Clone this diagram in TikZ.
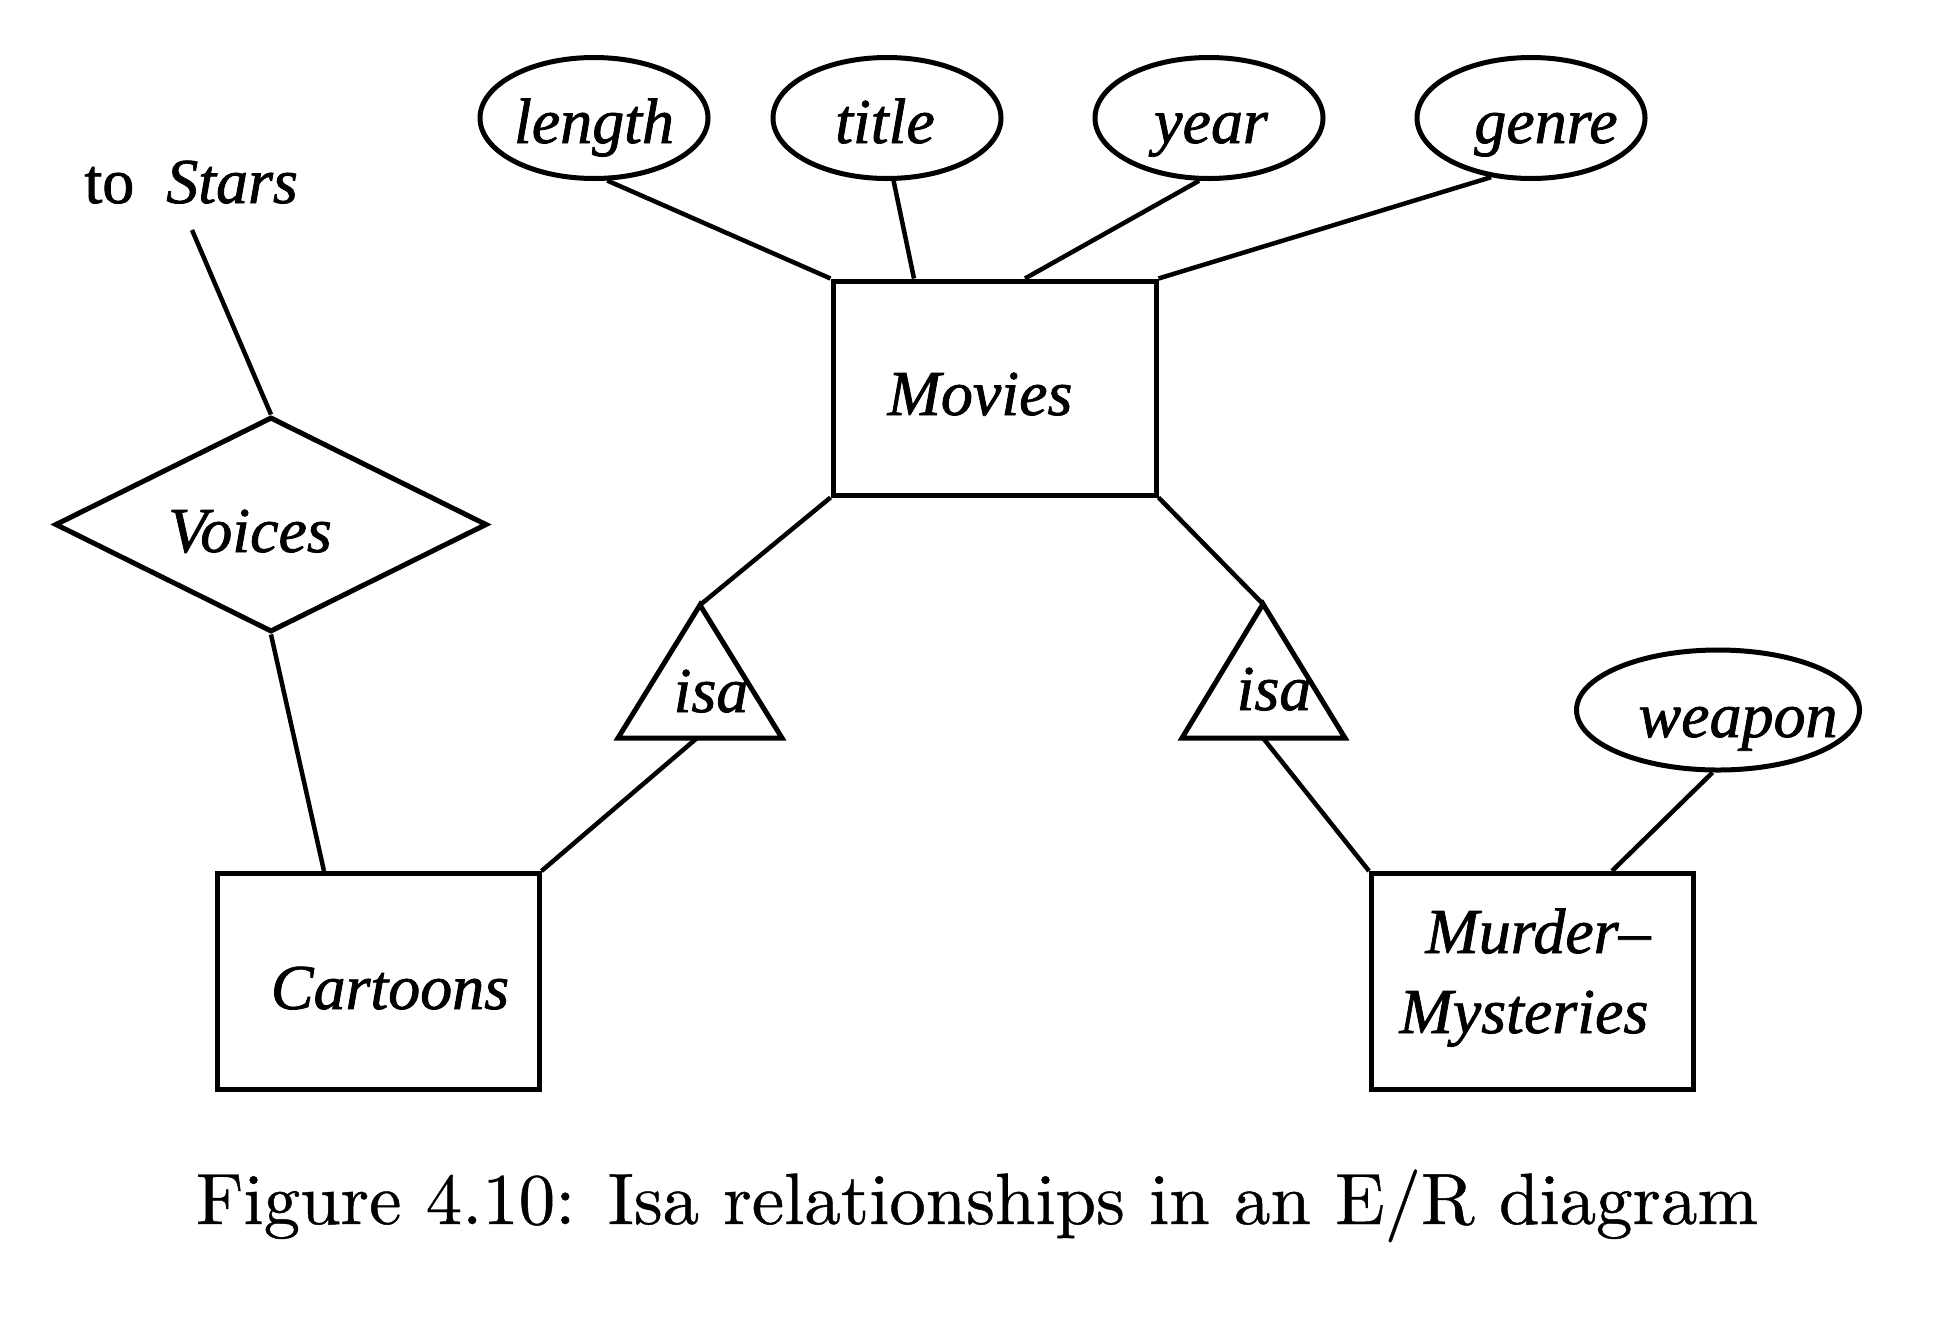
\documentclass[tikz,border=0pt]{standalone}
\usepackage{fontspec}
\newfontfamily\tms{Liberation Serif}[FakeBold=1.2]
\newfontfamily\capfont{lmroman10-regular.otf}[FakeBold=0.6]
\usetikzlibrary{shapes.geometric}
\begin{document}
\begin{tikzpicture}[x=1pt,y=-1pt,line width=5pt,
  attr/.style={draw,ellipse,inner sep=0pt,minimum width=228,minimum height=121},
  entity/.style={draw,rectangle,inner sep=0pt,minimum width=322,minimum height=216},
  rel/.style={draw,diamond,inner sep=0pt,minimum width=432,minimum height=215},
  lbl/.style={inner sep=0pt,anchor=base,font=\tms\itshape\fontsize{64}{70}\selectfont},
  link/.style={line width=4.5pt}]
\useasboundingbox[fill=white] (0,0) rectangle (1942,1326);

% attributes of Movies
\node[attr] (length) at (594,118) {};
\node[attr] (title)  at (887,118) {};
\node[attr] (year)   at (1209,118) {};
\node[attr] (genre)  at (1531,118) {};
\node[lbl] (tlength) at (594,143) {length};
\node[lbl] (ttitle)  at (885,143) {title};
\node[lbl] (tyear)   at (1211,143) {year};
\node[lbl] (tgenre)  at (1546,143) {genre};

% entities
\node[entity,minimum width=323,minimum height=214] (movies) at (994.5,388) {};
\node[lbl] (tmovies) at (980,415) {Movies};
\node[entity] (cartoons) at (378,981.5) {};
\node[lbl] (tcartoons) at (390,1009) {Cartoons};
\node[entity] (murder) at (1532.5,981.5) {};
\node[lbl,anchor=base west] (tmurder1) at (1423,953) {Murder–};
\node[lbl,anchor=base west] (tmurder2) at (1397,1033) {Mysteries};

% relationship
\node[rel] (voices) at (271,524.5) {};
\node[lbl] (tvoices) at (250,552) {Voices};
\node[inner sep=0pt,anchor=base west,font=\tms\fontsize{64}{70}\selectfont] (stars) at (82,203) {to\hspace{0.5em}\textit{Stars}};
\coordinate (starsend) at (192,230);

% weapon attribute
\node[attr,minimum width=283,minimum height=120] (weapon) at (1718,710) {};
\node[lbl] (tweapon) at (1738,737) {weapon};

% isa triangles
\coordinate (isaLtop) at (700,605);
\coordinate (isaLbl) at (618,738);
\coordinate (isaLbr) at (782,738);
\coordinate (isaLbot) at (697,738);
\draw (isaLtop) -- (isaLbr) -- (isaLbl) -- cycle;
\node[lbl] (isaL) at (711,712) {isa};

\coordinate (isaRtop) at (1263,604);
\coordinate (isaRbl) at (1182,738);
\coordinate (isaRbr) at (1345,738);
\coordinate (isaRbot) at (1263,738);
\draw (isaRtop) -- (isaRbr) -- (isaRbl) -- cycle;
\node[lbl] (isaR) at (1274,710) {isa};

% connectors
\draw[link] (length.-78) -- (movies.north west);
\draw[link] (title.-84) -- ([xshift=-80.5pt]movies.north);
\draw[link] (year.-99) -- ([xshift=30.5pt]movies.north);
\draw[link] (genre.-124) -- (movies.north east);
\draw[link] (movies.south west) -- (isaLtop);
\draw[link] (movies.south east) -- (isaRtop);
\draw[link] (isaLbot) -- (cartoons.north east);
\draw[link] (isaRbot) -- (murder.north west);
\draw[link] (weapon.-95) -- ([xshift=79.5pt]murder.north);
\draw[link] (starsend) -- (voices.north);
\draw[link] (voices.south) -- ([xshift=-54pt]cartoons.north);

% caption
\node[inner sep=0pt,anchor=base,font=\capfont\fontsize{72.8}{80}\selectfont] (caption) at (977,1224) {Figure 4.10: Isa relationships in an E/R diagram};
\end{tikzpicture}
\end{document}
